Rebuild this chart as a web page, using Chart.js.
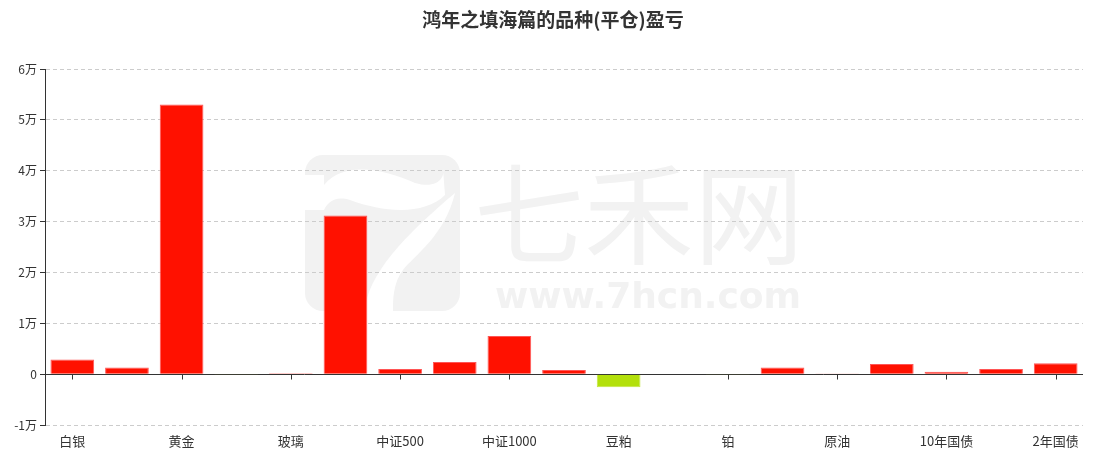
<!DOCTYPE html>
<html>
<head>
<meta charset="utf-8">
<script src="https://cdn.jsdelivr.net/npm/chart.js@4"></script>
<style>
  html, body { margin: 0; padding: 0; background: #fff; }
  #wrap { width: 1098px; height: 456px; position: relative; }
</style>
</head>
<body>
<div id="wrap"><canvas id="myChart"></canvas></div>
<script>
// 品种 (只每隔一个显示标签)
const pinZhong = ["白银", "沪铜", "黄金", "甲醇", "玻璃", "沪深300", "中证500", "上证50", "中证1000", "豆油",
  "豆粕", "棉花", "铂", "钯", "原油", "5年国债", "10年国债", "30年国债", "2年国债"];
// 平仓盈亏 (元)
const yingKui = [2900, 1300, 53000, -150, 200, 31200, 1000, 2400, 7500, 800,
  -2600, 0, -150, 1300, 120, 2000, 450, 1000, 2150];
const yTicks = [-10000, 0, 10000, 20000, 30000, 40000, 50000, 60000];
const titulo = "鸿年之填海篇的品种(平仓)盈亏";

const rojo = "#ff1100";
const verde = "#b3e00b";

function fmtWan(v) {
  if (v === 0) return "0";
  return (v / 10000) + "万";
}

// 水印 + 标题
const fondoPlugin = {
  id: "fondo",
  beforeDraw(chart) {
    const ctx = chart.ctx;
    ctx.save();
    ctx.fillStyle = "#f2f2f2";
    // logo
    const x0 = 305, y0 = 155, w = 155, h = 156, r = 18;
    ctx.beginPath();
    ctx.roundRect(x0, y0, w, h, r);
    ctx.fill();
    ctx.fillStyle = "#fff";
    ctx.beginPath();
    ctx.moveTo(x0 + 19, y0 + 30);
    ctx.bezierCurveTo(x0 + 40, y0 + 5, x0 + 80, y0 + 15, x0 + 110, y0 + 28);
    ctx.bezierCurveTo(x0 + 135, y0 + 35, x0 + 140, y0 + 20, x0 + 138, y0 + 14);
    ctx.lineTo(x0 + 140, y0 + 40);
    ctx.bezierCurveTo(x0 + 120, y0 + 60, x0 + 80, y0 + 58, x0 + 45, y0 + 45);
    ctx.bezierCurveTo(x0 + 30, y0 + 40, x0 + 22, y0 + 48, x0 + 19, y0 + 55);
    ctx.closePath();
    ctx.fill();
    ctx.beginPath();
    ctx.moveTo(x0 + 150, y0 + 38);
    ctx.bezierCurveTo(x0 + 140, y0 + 80, x0 + 110, y0 + 100, x0 + 98, y0 + 115);
    ctx.bezierCurveTo(x0 + 88, y0 + 128, x0 + 88, y0 + 145, x0 + 88, y0 + h);
    ctx.lineTo(x0 + 60, y0 + h);
    ctx.bezierCurveTo(x0 + 62, y0 + 120, x0 + 100, y0 + 80, x0 + 150, y0 + 38);
    ctx.closePath();
    ctx.fill();
    ctx.beginPath();
    ctx.moveTo(x0, y0 + 55);
    ctx.lineTo(x0 + 19, y0 + 55);
    ctx.lineTo(x0 + 19, y0 + 20);
    ctx.lineTo(x0, y0 + 20);
    ctx.closePath();
    ctx.fill();
    // texto
    ctx.fillStyle = "#f2f2f2";
    ctx.textBaseline = "alphabetic";
    ctx.textAlign = "left";
    ctx.font = "110px 'Noto Sans CJK SC'";
    ctx.fillText("七禾网", 474, 256);
    ctx.font = "bold 36px 'DejaVu Sans'";
    ctx.fillText("www.7hcn.com", 495, 308);
    ctx.restore();

    ctx.save();
    ctx.fillStyle = "#333";
    ctx.font = "bold 19px 'Noto Sans CJK SC'";
    ctx.textAlign = "center";
    ctx.textBaseline = "middle";
    ctx.fillText(titulo, 553, 20);
    ctx.restore();
  },
  beforeDatasetsDraw(chart) {
    const ctx = chart.ctx;
    const xs = chart.scales.x;
    const ys = chart.scales.y;
    const y0 = Math.round(ys.getPixelForValue(0)) + 0.5;
    ctx.save();
    ctx.strokeStyle = "#333";
    ctx.lineWidth = 1;
    ctx.beginPath();
    ctx.moveTo(chart.chartArea.left, y0);
    ctx.lineTo(chart.chartArea.right, y0);
    pinZhong.forEach((p, i) => {
      if (i % 2 !== 0) return;
      const x = Math.round(xs.getPixelForValue(i)) + 0.5;
      ctx.moveTo(x, y0);
      ctx.lineTo(x, y0 + 5);
    });
    ctx.stroke();
    ctx.restore();
  }
};

const canvas = document.getElementById("myChart");

const config = {
  type: "bar",
  data: {
    labels: pinZhong,
    datasets: [{
      label: "盈亏",
      data: yingKui,
      backgroundColor: yingKui.map(v => v < 0 ? verde : rojo),
      borderColor: yingKui.map(v => v < 0 ? "#c4e640" : "#ff5555"),
      borderWidth: 1,
      borderSkipped: "start",
      barPercentage: 0.8,
      categoryPercentage: 1
    }]
  },
  options: {
    responsive: true,
    maintainAspectRatio: false,
    animation: false,
    layout: { padding: { top: 69, right: 15, left: 0, bottom: 0 } },
    plugins: {
      legend: { display: false },
      title: { display: false },
      tooltip: { enabled: false }
    },
    scales: {
      x: {
        grid: { display: false },
        border: { display: false },
        ticks: {
          autoSkip: false,
          maxRotation: 0,
          color: "#333",
          font: { size: 13, family: "'Noto Sans CJK SC'" },
          padding: 0,
          callback: function (val, idx) {
            return idx % 2 === 0 ? pinZhong[idx] : "";
          }
        },
        afterFit(scale) { scale.height = 31; }
      },
      y: {
        min: -10000,
        max: 60000,
        afterBuildTicks(scale) {
          scale.ticks = yTicks.map(v => ({ value: v }));
        },
        grid: {
          color: "#cccccc",
          tickColor: "#333",
          tickLength: 5,
          drawTicks: true
        },
        border: { display: true, color: "#333", dash: [4, 3] },
        ticks: {
          color: "#333",
          font: { size: 12, family: "'Noto Sans CJK SC'" },
          padding: 3,
          callback: v => fmtWan(v)
        },
        afterFit(scale) { scale.width = 45; }
      }
    }
  },
  plugins: [fondoPlugin]
};

const myChart = new Chart(canvas, config);
</script>
</body>
</html>
